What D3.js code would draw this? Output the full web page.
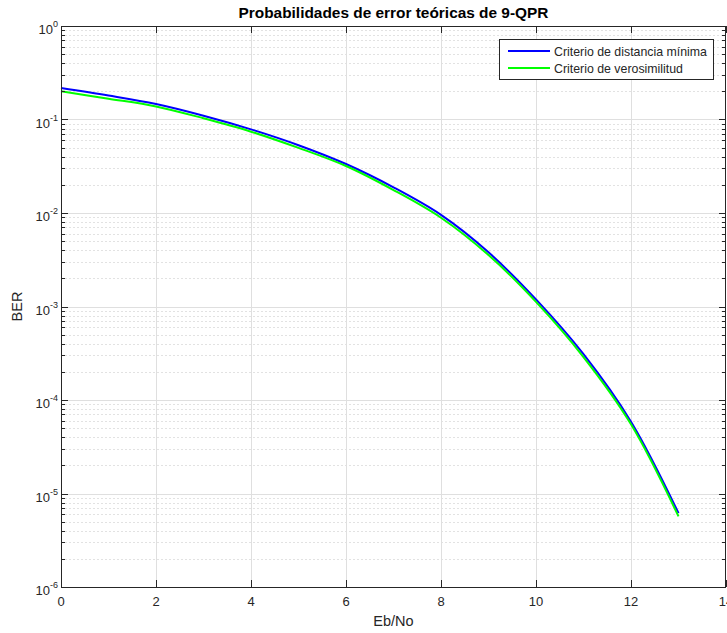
<!DOCTYPE html>
<html>
<head>
<meta charset="utf-8">
<script src="https://cdn.jsdelivr.net/npm/d3@7"></script>
<style>
  body { margin: 0; background: #fff; }
  svg { font-family: "Liberation Sans", Arial, sans-serif; display: block; }
</style>
</head>
<body>
<div id="chart"></div>
<script>
// Values
const ebno = [0, 1, 2, 3, 4, 5, 6, 7, 8, 9, 10, 11, 12, 13];
const berMinDist = [0.2173, 0.1807, 0.1466, 0.1099, 0.0785, 0.0531, 0.0334, 0.0188,
  0.00955, 0.00380, 0.00119, 0.000309, 5.86e-5, 6.17e-6];
const berVerosim = [0.2000, 0.1670, 0.1380, 0.1030, 0.0741, 0.0497, 0.0318, 0.0176,
  0.00890, 0.00355, 0.00112, 0.000288, 5.50e-5, 5.70e-6];
const seriesNames = ["Criterio de distancia mínima", "Criterio de verosimilitud"];
const seriesColors = ["#0000ff", "#00ff00"];
const xTicks = [0, 2, 4, 6, 8, 10, 12, 14];
const yExponents = [-6, -5, -4, -3, -2, -1, 0];

// Layout
const W = 727, H = 633;
const pLeft = 61, pRight = 726, pTop = 26, pBottom = 587;
const axisColor = "#262626";

const svg = d3.select("#chart")
  .append("svg")
  .attr("width", W)
  .attr("height", H);

const x = d3.scaleLinear().domain([0, 14]).range([pLeft, pRight]);
const y = d3.scaleLog().domain([1e-6, 1]).range([pBottom, pTop]);

// shrink/grow a text so it takes the width seen in the reference
function fitWidth(sel, target) {
  const fs = parseFloat(sel.attr("font-size"));
  const len = sel.node().getComputedTextLength();
  if (len > 0) sel.attr("font-size", (fs * target / len).toFixed(2) + "px");
}

// minor ticks for the log axis (2..9 in each decade)
const minorVals = [];
yExponents.slice(0, -1).forEach((e) => {
  for (let k = 2; k <= 9; k++) minorVals.push(k * Math.pow(10, e));
});

// Grid
svg.append("g")
  .selectAll("line")
  .data(minorVals)
  .enter()
  .append("line")
  .attr("x1", pLeft).attr("x2", pRight)
  .attr("y1", (d) => Math.round(y(d)) + 0.5).attr("y2", (d) => Math.round(y(d)) + 0.5)
  .attr("stroke", "#e2e2e2")
  .attr("stroke-dasharray", "2,2")
  .attr("stroke-width", 1);

svg.append("g")
  .selectAll("line")
  .data(yExponents.slice(1, -1))
  .enter()
  .append("line")
  .attr("x1", pLeft).attr("x2", pRight)
  .attr("y1", (d) => Math.round(y(Math.pow(10, d))) + 0.5)
  .attr("y2", (d) => Math.round(y(Math.pow(10, d))) + 0.5)
  .attr("stroke", "#dfdfdf");

svg.append("g")
  .selectAll("line")
  .data(xTicks.slice(1, -1))
  .enter()
  .append("line")
  .attr("x1", (d) => Math.round(x(d)) + 0.5).attr("x2", (d) => Math.round(x(d)) + 0.5)
  .attr("y1", pTop).attr("y2", pBottom)
  .attr("stroke", "#dfdfdf");

// Curves
const line = d3.line()
  .x((d) => x(d[0]))
  .y((d) => y(d[1]))
  .curve(d3.curveCatmullRom.alpha(0.5));

[berMinDist, berVerosim].forEach((vals, i) => {
  svg.append("path")
    .datum(ebno.map((e, j) => [e, vals[j]]))
    .attr("d", line)
    .attr("fill", "none")
    .attr("stroke", seriesColors[i])
    .attr("stroke-width", 2);
});

// Box
svg.append("rect")
  .attr("x", pLeft + 0.5).attr("y", pTop + 0.5)
  .attr("width", pRight - pLeft - 1).attr("height", pBottom - pTop)
  .attr("fill", "none")
  .attr("stroke", axisColor)
  .attr("stroke-width", 1);

// X ticks (inside, bottom and top)
const xt = svg.append("g").attr("stroke", axisColor);
xTicks.forEach((d) => {
  const px = Math.round(x(d)) + 0.5;
  xt.append("line").attr("x1", px).attr("x2", px).attr("y1", pBottom).attr("y2", pBottom - 7);
  xt.append("line").attr("x1", px).attr("x2", px).attr("y1", pTop).attr("y2", pTop + 7);
});

svg.append("g")
  .selectAll("text")
  .data(xTicks)
  .enter()
  .append("text")
  .attr("x", (d) => x(d))
  .attr("y", pBottom + 19)
  .attr("text-anchor", "middle")
  .attr("font-size", "13px")
  .attr("fill", axisColor)
  .text((d) => d);

// Y ticks (inside, left and right)
const yt = svg.append("g").attr("stroke", axisColor);
yExponents.forEach((e) => {
  const py = Math.round(y(Math.pow(10, e))) + 0.5;
  yt.append("line").attr("x1", pLeft).attr("x2", pLeft + 7).attr("y1", py).attr("y2", py);
  yt.append("line").attr("x1", pRight).attr("x2", pRight - 7).attr("y1", py).attr("y2", py);
});
minorVals.forEach((v) => {
  const py = Math.round(y(v)) + 0.5;
  yt.append("line").attr("x1", pLeft).attr("x2", pLeft + 4).attr("y1", py).attr("y2", py);
  yt.append("line").attr("x1", pRight).attr("x2", pRight - 4).attr("y1", py).attr("y2", py);
});

const ylab = svg.append("g")
  .selectAll("text")
  .data(yExponents)
  .enter()
  .append("text")
  .attr("x", pLeft - 3)
  .attr("y", (d) => y(Math.pow(10, d)) + 8)
  .attr("text-anchor", "end")
  .attr("fill", axisColor)
  .attr("font-size", "13px");
ylab.append("tspan").text("10");
ylab.append("tspan")
  .attr("dy", -7)
  .attr("font-size", "9px")
  .text((d) => d);

// Axis labels and title
svg.append("text")
  .attr("x", (pLeft + pRight) / 2)
  .attr("y", 626)
  .attr("text-anchor", "middle")
  .attr("font-size", "14.5px")
  .attr("fill", axisColor)
  .text("Eb/No");

svg.append("text")
  .attr("transform", `translate(22, ${(pTop + pBottom) / 2}) rotate(-90)`)
  .attr("text-anchor", "middle")
  .attr("font-size", "14.5px")
  .attr("fill", axisColor)
  .text("BER");

const title = svg.append("text")
  .attr("x", (pLeft + pRight) / 2)
  .attr("y", 18)
  .attr("text-anchor", "middle")
  .attr("font-size", "15px")
  .attr("font-weight", "bold")
  .attr("fill", "#000")
  .text("Probabilidades de error teóricas de 9-QPR");
fitWidth(title, 310);

// Legend
const legend = svg.append("g");
legend.append("rect")
  .attr("x", 499.5).attr("y", 39.5)
  .attr("width", 214).attr("height", 40)
  .attr("fill", "#fff")
  .attr("stroke", axisColor);

let legendFs = null;
seriesNames.forEach((name, i) => {
  const ly = 51 + i * 17;
  legend.append("line")
    .attr("x1", 508).attr("x2", 550)
    .attr("y1", ly).attr("y2", ly)
    .attr("stroke", seriesColors[i])
    .attr("stroke-width", 2);
  const t = legend.append("text")
    .attr("x", 554)
    .attr("y", ly + 4.5)
    .attr("font-size", legendFs || "12.3px")
    .attr("fill", axisColor)
    .text(name);
  if (i === 0) {
    fitWidth(t, 153);
    legendFs = t.attr("font-size");
  }
});
</script>
</body>
</html>
